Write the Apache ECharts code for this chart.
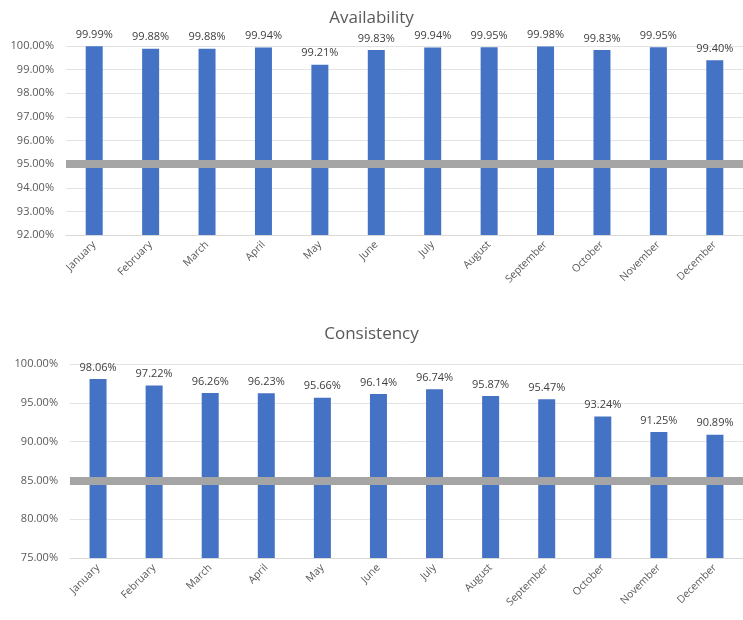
<!DOCTYPE html>
<html>
<head>
<meta charset="utf-8">
<script src="https://cdn.jsdelivr.net/npm/echarts@6/dist/echarts.min.js"></script>
<style>
  html, body { margin: 0; padding: 0; background: #fff; }
  #chart { width: 743px; height: 620px; }
</style>
</head>
<body>
<div id="chart"></div>
<script>
// Monthly service metrics, with target thresholds drawn as bands
const months = ['January', 'February', 'March', 'April', 'May', 'June',
  'July', 'August', 'September', 'October', 'November', 'December'];
const availability = [99.99, 99.88, 99.88, 99.94, 99.21, 99.83, 99.94, 99.95, 99.98, 99.83, 99.95, 99.40];
const consistency = [98.06, 97.22, 96.26, 96.23, 95.66, 96.14, 96.74, 95.87, 95.47, 93.24, 91.25, 90.89];
const availabilityTarget = 95;
const consistencyTarget = 85;
const availabilityTicks = { min: 92, max: 100, interval: 1 };
const consistencyTicks = { min: 75, max: 100, interval: 5 };

const FONT = '"Open Sans", "Liberation Sans", sans-serif';
const pct = v => v.toFixed(2) + '%';

function xAxis(gridIndex) {
  return {
    type: 'category', gridIndex, data: months,
    axisTick: { show: false },
    axisLine: { lineStyle: { color: '#d9d9d9' } },
    axisLabel: { rotate: 45, fontSize: 10.5, color: '#595959', fontFamily: FONT, margin: 8, interval: 0 }
  };
}
function yAxis(gridIndex, t) {
  return {
    type: 'value', gridIndex, min: t.min, max: t.max, interval: t.interval,
    axisLine: { show: false }, axisTick: { show: false },
    splitLine: { lineStyle: { color: '#e3e3e3' } },
    axisLabel: { formatter: pct, fontSize: 11, color: '#595959', fontFamily: FONT, margin: 12 }
  };
}
function bars(idx, values, target) {
  return {
    type: 'bar', xAxisIndex: idx, yAxisIndex: idx, data: values,
    barWidth: 17, itemStyle: { color: '#4472c4' },
    label: { show: true, position: 'top', distance: 6, formatter: p => pct(p.value),
      fontSize: 11, color: '#404040', fontFamily: FONT },
    markLine: {
      silent: true, symbol: 'none', animation: false,
      label: { show: false },
      lineStyle: { color: '#a5a5a5', width: 8, type: 'solid' },
      data: [{ yAxis: target }]
    }
  };
}

const chart = echarts.init(document.getElementById('chart'), null, { renderer: 'canvas' });
chart.setOption({
  animation: false,
  backgroundColor: '#ffffff',
  title: [
    { text: 'Availability', left: 'center', top: 5,
      textStyle: { fontSize: 17, fontWeight: 'normal', color: '#595959', fontFamily: FONT } },
    { text: 'Consistency', left: 'center', top: 321,
      textStyle: { fontSize: 17, fontWeight: 'normal', color: '#595959', fontFamily: FONT } }
  ],
  grid: [
    { left: 66, right: -8, top: 46, height: 189 },
    { left: 70, right: -4, top: 364, height: 194 }
  ],
  xAxis: [xAxis(0), xAxis(1)],
  yAxis: [yAxis(0, availabilityTicks), yAxis(1, consistencyTicks)],
  series: [
    bars(0, availability, availabilityTarget),
    bars(1, consistency, consistencyTarget)
  ]
});
</script>
</body>
</html>
